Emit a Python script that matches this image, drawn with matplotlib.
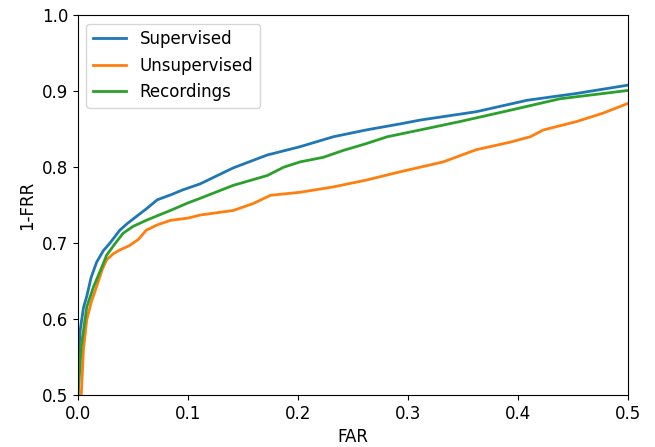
import numpy as np
import matplotlib.pyplot as plt

# ROC points (FAR, 1-FRR)
sup_far = [0.0, 0.0005, 0.002, 0.005, 0.008, 0.012, 0.017, 0.023, 0.029, 0.038, 0.045, 0.053,
           0.062, 0.072, 0.085, 0.095, 0.111, 0.141, 0.172, 0.202, 0.232, 0.262, 0.293,
           0.311, 0.362, 0.408, 0.453, 0.5]
sup_tpr = [0.5, 0.55, 0.585, 0.615, 0.63, 0.655, 0.675, 0.69, 0.70, 0.717, 0.726, 0.735,
           0.745, 0.757, 0.764, 0.77, 0.778, 0.799, 0.816, 0.827, 0.840, 0.849, 0.857,
           0.862, 0.873, 0.888, 0.897, 0.908]

uns_far = [0.0, 0.003, 0.005, 0.008, 0.012, 0.017, 0.022, 0.026, 0.032, 0.038, 0.047, 0.055,
           0.062, 0.072, 0.084, 0.1, 0.111, 0.141, 0.159, 0.175, 0.202, 0.232, 0.262, 0.293,
           0.311, 0.332, 0.362, 0.393, 0.411, 0.423, 0.453, 0.477, 0.5]
uns_tpr = [0.5, 0.5, 0.56, 0.599, 0.622, 0.643, 0.665, 0.678, 0.686, 0.691, 0.697, 0.705,
           0.717, 0.724, 0.730, 0.733, 0.737, 0.743, 0.752, 0.763, 0.767, 0.774, 0.783, 0.794,
           0.80, 0.807, 0.823, 0.833, 0.840, 0.849, 0.860, 0.871, 0.884]

rec_far = [0.0, 0.001, 0.003, 0.008, 0.014, 0.023, 0.026, 0.033, 0.041, 0.05, 0.062, 0.072,
           0.084, 0.1, 0.111, 0.141, 0.172, 0.187, 0.202, 0.223, 0.241, 0.262, 0.281, 0.311,
           0.347, 0.393, 0.438, 0.5]
rec_tpr = [0.5, 0.52, 0.564, 0.616, 0.642, 0.673, 0.684, 0.698, 0.713, 0.722, 0.730, 0.736,
           0.743, 0.753, 0.759, 0.776, 0.789, 0.80, 0.807, 0.813, 0.822, 0.831, 0.840, 0.849,
           0.860, 0.875, 0.890, 0.901]

plt.rcParams['font.size'] = 12
fig = plt.figure(figsize=(6.55, 4.47), dpi=100)
ax = fig.add_axes([0.119, 0.116, 0.840, 0.850])

ax.plot(sup_far, sup_tpr, color='#1f77b4', lw=2, label='Supervised')
ax.plot(uns_far, uns_tpr, color='#ff7f0e', lw=2, label='Unsupervised')
ax.plot(rec_far, rec_tpr, color='#2ca02c', lw=2, label='Recordings')

ax.set_xlim(0, 0.5)
ax.set_ylim(0.5, 1.0)
ax.set_xticks([0.0, 0.1, 0.2, 0.3, 0.4, 0.5])
ax.set_yticks([0.5, 0.6, 0.7, 0.8, 0.9, 1.0])
ax.set_xlabel('FAR')
ax.set_ylabel('1-FRR')
ax.legend(loc='upper left')

fig.savefig('out.png', dpi=100)
